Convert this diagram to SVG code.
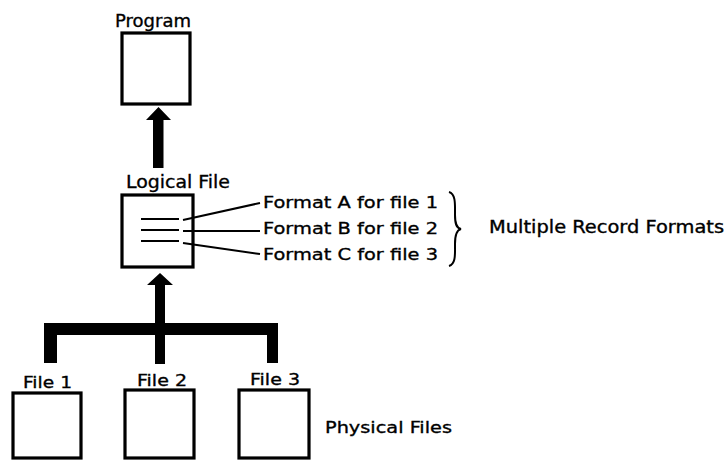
<svg xmlns="http://www.w3.org/2000/svg" width="726" height="461" viewBox="0 0 726 461">
<style>
.box{fill:#fff;stroke:#000;stroke-width:3.2}
.t{font-family:"DejaVu Sans","Liberation Sans",Arial,sans-serif;font-size:16.5px;fill:#000;stroke:#000;stroke-width:0.35}
.rec{stroke:#000;stroke-width:2.2;fill:none}
.lead{stroke:#000;stroke-width:2;fill:none}
.thick{fill:#000}
</style>
<rect width="726" height="461" fill="#fff"/>
<g id="program">
<rect class="box" x="122" y="33" width="68" height="71"/>
<text class="t" x="115" y="27" textLength="76" lengthAdjust="spacingAndGlyphs" style="font-size:18px">Program</text>
</g>
<g id="logical-file">
<rect class="box" x="122" y="195" width="71" height="72"/>
<text class="t" x="126" y="188" textLength="104" lengthAdjust="spacingAndGlyphs" style="font-size:18px">Logical File</text>
<line class="rec" x1="141" y1="219" x2="179" y2="219"/>
<line class="rec" x1="141" y1="230" x2="179" y2="230"/>
<line class="rec" x1="141" y1="241" x2="179" y2="241"/>
</g>
<g id="formats">
<text class="t" x="263" y="208" textLength="175" lengthAdjust="spacingAndGlyphs">Format A for file 1</text>
<text class="t" x="263" y="234" textLength="175" lengthAdjust="spacingAndGlyphs">Format B for file 2</text>
<text class="t" x="263" y="260" textLength="175" lengthAdjust="spacingAndGlyphs">Format C for file 3</text>
<path class="lead" d="M449,192 C456,194 455,205 455,215 C455,223 456,228 461,229 C456,230 455,236 455,244 C455,254 456,264 449,266"/>
<text class="t" x="489" y="233" textLength="235" lengthAdjust="spacingAndGlyphs" style="font-size:17px">Multiple Record Formats</text>
</g>
<g id="file1">
<rect class="box" x="13" y="393" width="68" height="65"/>
<text class="t" x="23" y="388" textLength="49" lengthAdjust="spacingAndGlyphs">File 1</text>
</g>
<g id="file2">
<rect class="box" x="125" y="390" width="69" height="68"/>
<text class="t" x="137" y="386" textLength="50" lengthAdjust="spacingAndGlyphs">File 2</text>
</g>
<g id="file3">
<rect class="box" x="239" y="390" width="70" height="68"/>
<text class="t" x="250" y="385" textLength="50" lengthAdjust="spacingAndGlyphs">File 3</text>
</g>
<g id="physical-files">
<text class="t" x="325" y="433" textLength="127" lengthAdjust="spacingAndGlyphs">Physical Files</text>
</g>
<g id="connectors">
<polygon class="thick" points="158.5,107 171,120 163.5,120 163.5,168 153,168 153,120 146,120"/>
<polygon class="thick" points="160,273 173,285 165,285 165,364 155,364 155,285 147,285"/>
<rect class="thick" x="44" y="323" width="234" height="12"/>
<rect class="thick" x="44" y="323" width="13" height="40"/>
<rect class="thick" x="267" y="323" width="11" height="40"/>
<line class="lead" x1="183" y1="220" x2="260" y2="203"/>
<line class="lead" x1="183" y1="231" x2="260" y2="231"/>
<line class="lead" x1="183" y1="243" x2="260" y2="254"/>
</g>
</svg>
